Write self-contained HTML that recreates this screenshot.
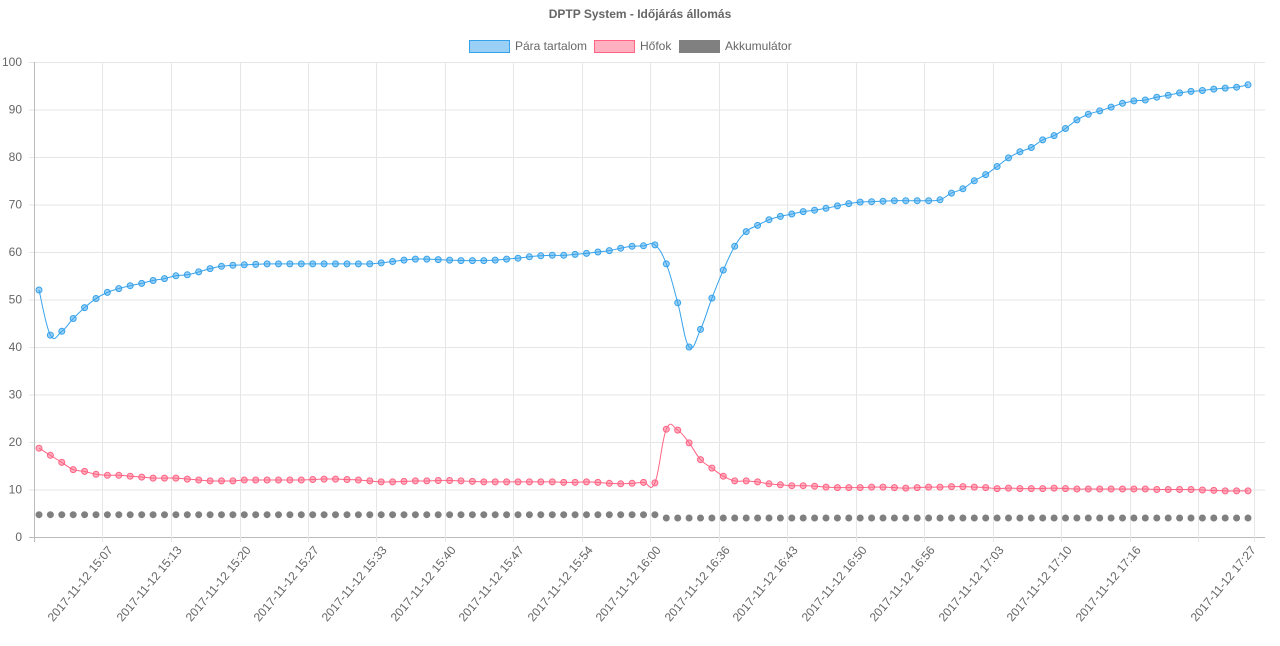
<!DOCTYPE html>
<html><head><meta charset="utf-8"><style>
html,body{margin:0;padding:0;background:#fff}
svg{display:block;font-family:"Liberation Sans",Arial,sans-serif}
</style></head><body>
<svg id="c" width="1280" height="646" xmlns="http://www.w3.org/2000/svg">
<text x="640" y="18" text-anchor="middle" font-size="12" font-weight="bold" fill="#666">DPTP System - Időjárás állomás</text>
<rect x="469.5" y="40.5" width="40" height="12" fill="rgba(54,162,235,0.5)" stroke="#36a2eb"/>
<text x="515" y="50" font-size="12" fill="#666">Pára tartalom</text>
<rect x="594.5" y="40.5" width="40" height="12" fill="rgba(255,99,132,0.5)" stroke="#ff6384"/>
<text x="640" y="50" font-size="12" fill="#666">Hőfok</text>
<rect x="679.5" y="40.5" width="40" height="12" fill="#808080" stroke="#808080"/>
<text x="725" y="50" font-size="12" fill="#666">Akkumulátor</text>
<g id="g"></g>
</svg>
<script>
var g=document.getElementById('g'),h='';
var y0=537,yk=4.75;function Y(v){return y0-v*yk}
for(var v=0;v<=100;v+=10){var y=Y(v);h+='<line x1="29" x2="1265" y1="'+(y+0.5)+'" y2="'+(y+0.5)+'" stroke="'+(v==0?'#bbb':'#e6e6e6')+'"/>';
h+='<text x="22" y="'+(y+4)+'" text-anchor="end" font-size="12" fill="#666">'+v+'</text>';}
var gx=[34,102,171,240,308,376,445,513,582,650,719,787,856,924,993,1061,1130,1198,1254];
var lb=['','15:07','15:13','15:20','15:27','15:33','15:40','15:47','15:54','16:00','16:36','16:43','16:50','16:56','17:03','17:10','17:16','','17:27'];
gx.forEach(function(x,i){h+='<line x1="'+(x+0.5)+'" x2="'+(x+0.5)+'" y1="62" y2="542" stroke="'+(i==0?'#bbb':'#e6e6e6')+'"/>';
if(lb[i]){var lx=(i==18?1250:x+5);h+='<text transform="translate('+lx+',545) rotate(-50)" text-anchor="end" font-size="12" fill="#666" dy="0.7em">2017-11-12 '+lb[i]+'</text>';}});
var N=107,x0=39,s=(1248-39)/(N-1);
var blue=[52,42.5,43.3,46,48.3,50.2,51.5,52.3,52.9,53.4,54,54.4,55,55.2,55.8,56.5,57,57.2,57.3,57.4,57.5,57.5,57.5,57.5,57.5,57.5,57.5,57.5,57.5,57.5,57.7,58,58.3,58.5,58.5,58.4,58.3,58.2,58.2,58.2,58.3,58.5,58.7,59,59.2,59.3,59.3,59.5,59.7,60,60.3,60.8,61.2,61.3,61.5,
57.5,49.3,40,43.7,50.3,56.2,61.2,64.3,65.6,66.8,67.5,68,68.5,68.8,69.2,69.7,70.2,70.5,70.6,70.7,70.8,70.8,70.8,70.8,71,72.4,73.3,75,76.3,78,79.8,81.1,82,83.6,84.5,86,87.8,89,89.7,90.5,91.3,91.8,92,92.6,93,93.5,93.8,94,94.3,94.5,94.7,95.2];
var red=[18.7,17.2,15.7,14.2,13.8,13.2,13,13,12.8,12.6,12.4,12.4,12.4,12.2,12,11.8,11.8,11.8,12,12,12,12,12,12,12.1,12.2,12.2,12.1,12,11.8,11.6,11.6,11.7,11.8,11.8,11.9,11.9,11.8,11.7,11.6,11.6,11.6,11.6,11.6,11.6,11.6,11.5,11.5,11.6,11.5,11.3,11.2,11.3,11.5,11.4,
22.7,22.5,19.8,16.3,14.5,12.8,11.8,11.8,11.6,11.2,11,10.8,10.8,10.7,10.5,10.4,10.4,10.4,10.5,10.5,10.4,10.3,10.4,10.5,10.5,10.6,10.6,10.5,10.4,10.2,10.3,10.2,10.2,10.2,10.3,10.2,10.1,10.1,10.1,10.1,10.1,10.1,10.1,10,10,10,10,9.9,9.8,9.7,9.7,9.7];
function fix(a){a=a.slice(0,N);while(a.length<N)a.push(a[a.length-1]);return a}
blue=fix(blue);red=fix(red);
var gray=[];for(var i=0;i<N;i++)gray.push(i<55?4.7:4.0);
function series(a,col,fill,line){var p=a.map(function(v,i){return[x0+i*s,Y(v)]});
if(line){var d='M'+p[0][0]+','+p[0][1],t=0.2;
for(var i=0;i<p.length-1;i++){var pm=p[i-1]||p[i],pa=p[i],pb=p[i+1],pn=p[i+2]||pb;
var c1=[pa[0]+(pb[0]-pm[0])*t,pa[1]+(pb[1]-pm[1])*t],c2=[pb[0]-(pn[0]-pa[0])*t,pb[1]-(pn[1]-pa[1])*t];
d+=' C'+c1+' '+c2+' '+pb;}
h+='<path d="'+d+'" fill="none" stroke="'+col+'" stroke-width="1"/>';}
p.forEach(function(q){h+='<circle cx="'+q[0].toFixed(1)+'" cy="'+q[1].toFixed(1)+'" r="3" fill="'+fill+'" stroke="'+col+'" stroke-width="1"/>'});}
series(blue,'#36a2eb','rgba(54,162,235,0.5)',true);
series(red,'#ff6384','rgba(255,99,132,0.5)',true);
series(gray,'#808080','#808080',false);
g.innerHTML=h;
</script>
</body></html>
